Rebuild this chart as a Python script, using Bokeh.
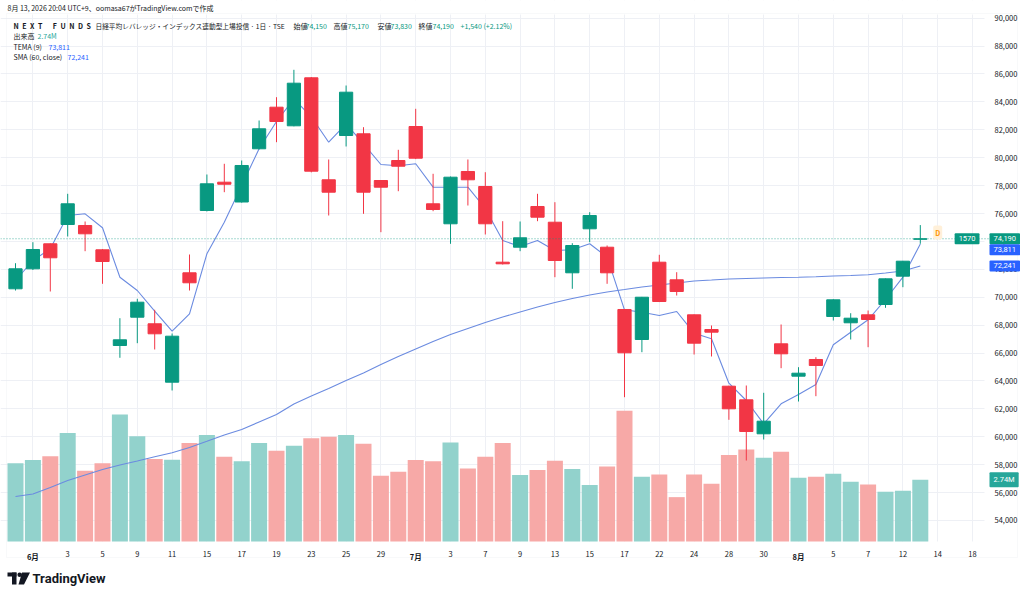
from bokeh.plotting import figure
from bokeh.models import (Range1d, FixedTicker, NumeralTickFormatter, Span, Label, ColumnDataSource,
                          LinearAxis, BoxAnnotation)
from bokeh.embed import file_html
from bokeh.resources import INLINE

# ---------------- data ----------------
dates = ["05-29", "06-01", "06-02", "06-03", "06-04", "06-05", "06-08", "06-09", "06-10", "06-11",
         "06-12", "06-15", "06-16", "06-17", "06-18", "06-19", "06-22", "06-23", "06-24", "06-25",
         "06-26", "06-29", "06-30", "07-01", "07-02", "07-03", "07-06", "07-07", "07-08", "07-09",
         "07-10", "07-13", "07-14", "07-15", "07-16", "07-17", "07-21", "07-22", "07-23", "07-24",
         "07-27", "07-28", "07-29", "07-30", "07-31", "08-03", "08-04", "08-05", "08-06", "08-07",
         "08-10", "08-12", "08-13"]

opens = [70602, 72036, 73828, 75211, 75140, 73398, 66538, 68567, 68094, 63908,
         71749, 76215, 78244, 76824, 80638, 83620, 82286, 85727, 78416, 81591,
         81713, 78365, 79799, 82236, 76695, 75262, 79011, 77935, 72509, 73584,
         76502, 75376, 71749, 74903, 73584, 69119, 66968, 72509, 71248, 68739,
         67685, 63621, 62646, 60209, 66660, 64338, 65535, 68617, 68166, 68739,
         69477, 71506, 74150]
highs = [72437, 73943, 73850, 77412, 75427, 73450, 68495, 69886, 69097, 67398,
         73061, 78796, 79563, 79799, 82666, 84337, 86300, 85780, 79871, 85175,
         82186, 78380, 80566, 83505, 78846, 78650, 79871, 78960, 75448, 75427,
         77412, 76810, 73871, 76093, 73706, 69150, 70020, 73040, 71792, 68760,
         67972, 63650, 63671, 63148, 68044, 64983, 65700, 69850, 68853, 69047,
         71340, 72600, 75170]
lows = [70480, 71950, 70409, 74351, 73298, 70961, 65657, 66703, 66252, 63313,
        70480, 76150, 77527, 76780, 80600, 81111, 82250, 78950, 75857, 80803,
        75978, 74660, 77598, 79900, 76165, 73828, 76573, 74495, 72344, 73298,
        75448, 71434, 70602, 73943, 70961, 62832, 66058, 69650, 70122, 65893,
        65750, 61212, 58295, 59800, 64911, 62524, 62904, 68330, 66968, 66416,
        69240, 70717, 73830]
closes = [72036, 73420, 72825, 76695, 74545, 72559, 66947, 69642, 67377, 67205,
          71033, 78129, 78100, 79441, 82071, 82595, 85340, 79032, 77527, 84695,
          77527, 77885, 79390, 79964, 76287, 78602, 78416, 75262, 72394, 74258,
          75735, 72631, 73706, 75857, 71749, 66015, 70000, 69692, 70409, 66703,
          67492, 62001, 60374, 61112, 65943, 64553, 65105, 69814, 68495, 68402,
          71319, 72581, 74190]
volumes_m = [3.48, 3.62, 3.78, 4.82, 3.14, 3.47, 5.64, 4.67, 3.66, 3.63,
             4.37, 4.73, 3.76, 3.56, 4.37, 4.03, 4.25, 4.58, 4.65, 4.73,
             4.34, 2.92, 3.10, 3.62, 3.56, 4.40, 3.24, 3.76, 4.37, 2.95,
             3.17, 3.59, 3.22, 2.51, 3.33, 5.81, 2.88, 2.98, 1.97, 2.98,
             2.56, 3.84, 4.09, 3.72, 3.99, 2.83, 2.88, 3.01, 2.65, 2.53,
             2.21, 2.25, 2.74]
tema9 = [71197, 72631, 73470, 75857, 75978, 74975, 71434, 70481, 68997, 67563,
         68810, 73111, 75376, 78007, 80638, 82595, 84222, 82931, 81111, 82430,
         80995, 79512, 79419, 79563, 77885, 77885, 77885, 76358, 74065, 73635,
         74065, 73348, 73398, 73828, 72870, 69097, 68925, 68689, 68976, 67420,
         67018, 63836, 62596, 60925, 62360, 63026, 63743, 66589, 67492, 68380,
         69836, 71434, 73811]
sma60 = [55715, 55894, 56360, 56861, 57256, 57650, 57973, 58259, 58560, 58854,
         59227, 59671, 60123, 60517, 61055, 61592, 62345, 62918, 63456, 64029,
         64567, 65176, 65750, 66287, 66825, 67327, 67757, 68187, 68581, 68940,
         69298, 69620, 69907, 70158, 70373, 70552, 70732, 70875, 71018, 71162,
         71233, 71305, 71341, 71377, 71412, 71434, 71470, 71520, 71556, 71606,
         71735, 71878, 72241]

tick_idx = [1, 3, 5, 7, 9, 11, 13, 15, 17, 19, 21, 23, 25, 27, 29, 31, 33, 35, 37, 39,
            41, 43, 45, 47, 49, 51, 53, 55]
tick_labels = ["6月", "3", "5", "9", "11", "15", "17", "19", "23", "25", "29", "7月", "3", "7",
               "9", "13", "15", "17", "22", "24", "28", "30", "8月", "5", "7", "12", "14", "18"]
price_ticks = list(range(54000, 90001, 2000))

# ---------------- geometry / styling ----------------
W, H = 1020, 594
PX_PER_BAR = 17.4
X0 = -15 / PX_PER_BAR                 # bar index at left canvas edge
PRICE_PER_PX = 71.68
P_TOP = 76000 + 213 * PRICE_PER_PX    # price at canvas top
P_BOT = P_TOP - H * PRICE_PER_PX
PANE_RIGHT = (984 - 15) / PX_PER_BAR  # bar index at pane right edge
PANE_TOP = P_TOP - 14 * PRICE_PER_PX
PANE_BOT = P_TOP - 541 * PRICE_PER_PX
VOL_PX_PER_M = 22.52

UP, DOWN = "#089981", "#f23645"
VUP, VDOWN = "#92d2cc", "#f7a9a7"
TXT = "#131722"
FONT = "Noto Sans CJK JP"

n = len(opens)
idx = list(range(n))
is_up = [c >= o for o, c in zip(opens, closes)]
src = ColumnDataSource(dict(
    x=idx, o=opens, h=highs, l=lows, c=closes,
    top=[max(o, c) for o, c in zip(opens, closes)],
    bot=[min(o, c) for o, c in zip(opens, closes)],
    color=[UP if u else DOWN for u in is_up],
    vcolor=[VUP if u else VDOWN for u in is_up],
    vol=[v * 1e6 for v in volumes_m],
    tema=tema9, sma=sma60,
))

p = figure(width=W, height=H, output_backend="svg", toolbar_location=None,
           x_range=Range1d(X0, X0 + W / PX_PER_BAR), y_range=Range1d(P_BOT, P_TOP),
           x_axis_location=None, y_axis_location=None,
           min_border_left=0, min_border_top=0, min_border_right=0, min_border_bottom=0)
p.extra_y_ranges = {"vol": Range1d(-(H - 541) / VOL_PX_PER_M * 1e6, 541 / VOL_PX_PER_M * 1e6),
                    "py": Range1d(H, 0)}
p.extra_x_ranges = {"px": Range1d(0, W)}
p.outline_line_color = None
p.background_fill_color = "white"
p.border_fill_color = "white"

xt = FixedTicker(ticks=tick_idx)
yt = FixedTicker(ticks=price_ticks)
p.xgrid.ticker = xt
p.ygrid.ticker = yt
p.xgrid.grid_line_color = "#eef0f5"
p.ygrid.grid_line_color = "#eef0f5"

# white masks outside the price pane (hide grid there)
for kw in (dict(left=PANE_RIGHT), dict(top=PANE_BOT), dict(bottom=PANE_TOP)):
    p.add_layout(BoxAnnotation(fill_color="white", fill_alpha=1, line_color=None,
                               level="underlay", **kw))
# faint outer border of the chart
p.add_layout(BoxAnnotation(left=6, right=1017, top=13, bottom=557, x_range_name="px",
                           y_range_name="py", fill_alpha=0, line_color="#e9ebf0",
                           line_width=1, level="underlay"))

day_ticks = [i for i, s in zip(tick_idx, tick_labels) if not s.endswith("月")]
month_ticks = [i for i, s in zip(tick_idx, tick_labels) if s.endswith("月")]
overrides = {i: s for i, s in zip(tick_idx, tick_labels)}
xaxis = LinearAxis(ticker=FixedTicker(ticks=day_ticks), fixed_location=PANE_BOT,
                   major_label_overrides=overrides)
maxis = LinearAxis(ticker=FixedTicker(ticks=month_ticks), fixed_location=PANE_BOT,
                   major_label_overrides=overrides)
yaxis = LinearAxis(ticker=yt, fixed_location=PANE_RIGHT, formatter=NumeralTickFormatter(format="0,0"))
for ax in (xaxis, maxis, yaxis):
    ax.axis_line_color = None
    ax.major_tick_line_color = None
    ax.minor_tick_line_color = None
    ax.major_label_text_font = FONT
    ax.major_label_text_font_size = "7.5px"
    ax.major_label_text_color = TXT
maxis.major_label_text_font_style = "bold"
xaxis.major_label_standoff = 3
maxis.major_label_standoff = 3
yaxis.major_label_standoff = 4
p.add_layout(xaxis, "below")
p.add_layout(maxis, "below")
p.add_layout(yaxis, "right")

# volume
p.vbar(x="x", width=0.92, top="vol", bottom=0, fill_color="vcolor", line_color=None,
       y_range_name="vol", source=src)
# indicators
p.line(x="x", y="sma", line_color="#6b8be0", line_width=1.1, source=src)
p.line(x="x", y="tema", line_color="#6b8be0", line_width=1.1, source=src)
# candles
p.segment(x0="x", y0="l", x1="x", y1="h", line_color="color", line_width=1, source=src)
p.vbar(x="x", width=0.76, top="top", bottom="bot", fill_color="color", line_color="color",
       line_width=1, source=src)

p.add_layout(Span(location=closes[-1], dimension="width", line_color=UP, line_alpha=0.7,
                  line_dash="1 2", line_width=1))


def lab(px, py, text, color=TXT, size="7px", style="normal", font=FONT, **kw):
    p.add_layout(Label(x=px, y=H - py, x_units="screen", y_units="screen", text=text,
                       text_color=color, text_font=font, text_font_size=size,
                       text_font_style=style, text_baseline="middle", **kw))


# header and legend
lab(7, 7, "8月 13, 2026 20:04 UTC+9、oomasa67がTradingView.comで作成", size="7px")
lab(13, 25.5, "N\u2002E\u2002X\u2002T\u2003\u2002F\u2002U\u2002N\u2002D\u2002S", style="bold")
lab(95, 25.5, "日経平均レバレッジ・インデックス連動型上場投信 · 1日 · TSE", size="6.7px")
lab(293, 25.5, "始値")
lab(305, 25.5, "74,150", UP)
lab(333, 25.5, "高値")
lab(347, 25.5, "75,170", UP)
lab(377, 25.5, "安値")
lab(390, 25.5, "73,830", UP)
lab(418, 25.5, "終値")
lab(432, 25.5, "74,190", UP)
lab(460, 25.5, "+1,540 (+2.12%)", UP)
lab(13, 35.5, "出来高")
lab(37, 35.5, "2.74M", "#26a69a")
lab(13, 46, "TEMA (9)")
lab(48, 46, "73,811", "#2962ff")
lab(13, 56.5, "SMA (60, close)")
lab(67, 56.5, "72,241", "#2962ff")

# TradingView logo (page pixel coordinates)
p.quad(left=[7, 11.5], right=[16, 16], top=[572, 572], bottom=[576, 584], fill_color=TXT,
       line_color=None, x_range_name="px", y_range_name="py")
p.scatter(x=[19.2], y=[574.2], size=4.6, fill_color=TXT, line_color=None,
          x_range_name="px", y_range_name="py")
p.patch(x=[21.5, 29.5, 23.5, 18.0], y=[572, 572, 584, 584], fill_color=TXT, line_color=None,
        x_range_name="px", y_range_name="py")
lab(32, 578, "TradingView", style="bold", size="13px", font="Roboto")

TAG_PAD = dict(left=4, right=4, top=3, bottom=3)


def tag(y, text, bg, y_range_name="default", sx=989, align="left"):
    p.add_layout(Label(x=sx, y=y, x_units="screen", y_units="data", y_range_name=y_range_name,
                       text=text, text_color="white", text_font="Roboto", text_font_size="7.5px",
                       text_baseline="middle", text_align=align,
                       background_fill_color=bg, padding=TAG_PAD, border_radius=1))


tag(closes[-1], "74,190", UP)
tag(P_TOP - 249.3 * PRICE_PER_PX, "73,811", "#2962ff")
tag(sma60[-1], "72,241", "#2962ff")
tag(volumes_m[-1] * 1e6, "2.74M", "#26a69a", y_range_name="vol")
tag(closes[-1], "1570", UP, sx=979, align="right")

p.add_layout(Label(x=53.0, y=74638, text="D", text_color="#ff9800", text_font=FONT,
                   text_font_size="7px", text_font_style="bold", text_align="center",
                   text_baseline="middle", background_fill_color="#fff0d9", padding=2,
                   border_radius=2))

open("out.html", "w").write(file_html(p, INLINE))
